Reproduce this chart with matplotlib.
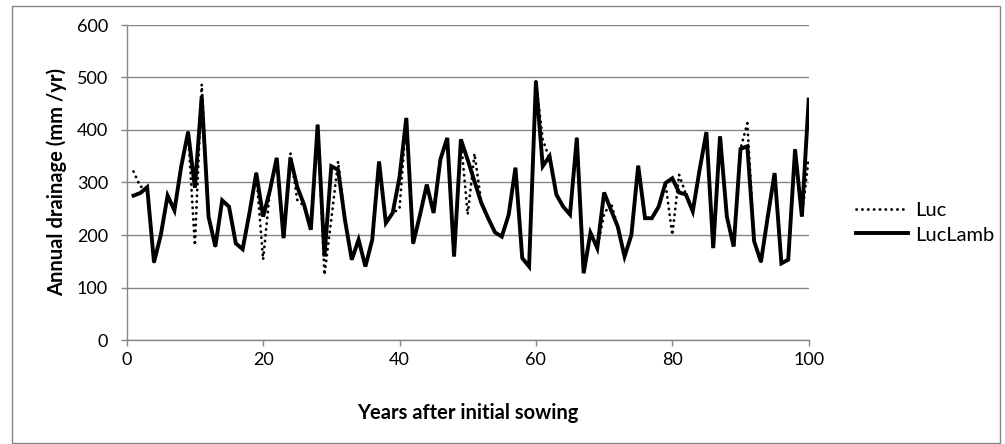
import matplotlib
matplotlib.use("Agg")
import matplotlib.pyplot as plt
from matplotlib.patches import Rectangle

plt.rcParams["font.family"] = ["Lato", "DejaVu Sans"]

years = list(range(1, 101))

# annual drainage (mm/yr), lucerne with lambs
luc_lamb = [
    275, 280, 291, 148, 200, 275, 247, 331, 396, 290,
    464, 235, 178, 266, 254, 184, 173, 242, 318, 235,
    285, 347, 194, 347, 292, 258, 210, 410, 159, 331,
    324, 229, 153, 191, 140, 191, 340, 223, 242, 310,
    423, 184, 238, 296, 242, 344, 385, 159, 382, 343,
    302, 261, 232, 205, 197, 238, 328, 156, 140, 493,
    331, 350, 277, 254, 239, 385, 127, 204, 175, 281,
    248, 216, 159, 200, 332, 232, 232, 254, 299, 308,
    281, 277, 245, 324, 396, 175, 388, 235, 178, 364,
    369, 188, 149, 235, 318, 146, 153, 363, 235, 458,
]

# annual drainage (mm/yr), lucerne only
luc = [
    321, 292, 291, 148, 200, 275, 247, 331, 396, 180,
    487, 235, 178, 266, 254, 184, 173, 242, 318, 153,
    285, 347, 194, 356, 267, 255, 210, 410, 124, 230,
    340, 229, 153, 191, 140, 191, 340, 223, 242, 250,
    423, 184, 238, 296, 242, 344, 385, 159, 382, 239,
    355, 261, 232, 205, 197, 238, 328, 156, 140, 493,
    382, 345, 277, 254, 239, 385, 127, 204, 175, 240,
    261, 216, 159, 200, 332, 232, 232, 254, 299, 200,
    315, 277, 245, 324, 396, 175, 388, 235, 178, 364,
    413, 188, 149, 235, 318, 146, 153, 363, 235, 347,
]

x_ticks = [0, 20, 40, 60, 80, 100]
y_ticks = [0, 100, 200, 300, 400, 500, 600]

grey = "#868686"

fig = plt.figure(figsize=(10.05, 4.44), dpi=100)
fig.patches.append(Rectangle((12 / 1005, 1 / 444), 988 / 1005, 437 / 444,
                             transform=fig.transFigure, fill=False,
                             edgecolor=grey, linewidth=1))

ax = fig.add_axes([126.7 / 1005, 104 / 444, 682 / 1005, 315 / 444])

ax.plot(years, luc, color="black", linewidth=2.0,
        linestyle=(0, (0.1, 2.0)), dash_capstyle="round", label="Luc", zorder=2)
ax.plot(years, luc_lamb, color="black", linewidth=2.8,
        solid_joinstyle="miter", label="LucLamb", zorder=3)

ax.set_xlim(0, 100)
ax.set_ylim(0, 600)
ax.set_xticks(x_ticks)
ax.set_yticks(y_ticks)
ax.yaxis.grid(True, color=grey, linewidth=1)
ax.set_axisbelow(True)

for side in ["top", "right"]:
    ax.spines[side].set_visible(False)
for side in ["left", "bottom"]:
    ax.spines[side].set_color(grey)
    ax.spines[side].set_linewidth(1)

ax.tick_params(axis="both", colors=grey, length=4.5, width=1, labelsize=13,
               labelcolor="black")
ax.tick_params(axis="x", pad=4)
ax.tick_params(axis="y", pad=9)

ax.set_xlabel("Years after initial sowing", fontsize=14.5, fontweight="bold",
              labelpad=25)
ax.set_ylabel("Annual drainage (mm /yr)", fontsize=14.5, fontweight="bold",
              labelpad=7)

fig.legend(loc="center left", bbox_to_anchor=(838 / 1005, 0.498),
           frameon=False, fontsize=14.5, handlelength=2.6, handletextpad=0.35,
           labelspacing=0.35)

fig.savefig("out.png", dpi=100)
